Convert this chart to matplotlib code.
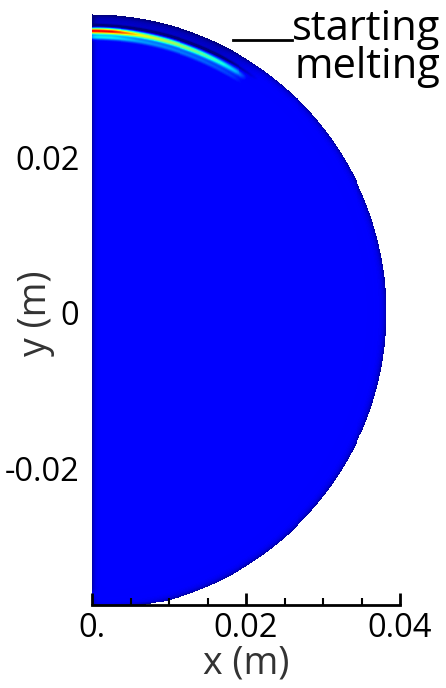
import numpy as np
import matplotlib.pyplot as plt
from matplotlib.lines import Line2D

plt.rcParams['font.family'] = ['Open Sans', 'DejaVu Sans']

# half-sphere section (m)
radius = 0.0383
band_r = 0.0362
band_w = 0.00038

# melt-front level along the top of the section (polar angle in deg -> colour level)
band_deg = [56, 59, 62, 66, 71, 76, 80, 83, 86, 90]
band_lvl = [0.11, 0.30, 0.38, 0.45, 0.52, 0.58, 0.64, 0.78, 0.90, 0.92]
base_lvl = 0.115
shell_lvl = 0.07

x_ticks = [0, 0.02, 0.04]
x_ticklabels = ['0.', '0.02', '0.04']
y_ticks = [-0.02, 0, 0.02]
y_ticklabels = ['-0.02', '0', '0.02']

xs = np.linspace(0, radius, 300)
ys = np.linspace(-radius, radius, 600)
X, Y = np.meshgrid(xs, ys)
R = np.hypot(X, Y)
TH = np.degrees(np.arctan2(Y, X))

amp = np.interp(TH, band_deg, band_lvl)
top = np.clip((TH - 54) / 10, 0, 1)

field = np.full_like(R, base_lvl)
field = np.where(R > band_r, base_lvl - (base_lvl - shell_lvl) * top, field)
# dark wall at the rim and along the symmetry axis
field -= 0.09 * np.exp(-(radius - R) / 0.00035)
field -= 0.07 * np.exp(-X / 0.0003)
# melting band
g = np.exp(-((R - band_r) / band_w) ** 2)
field = field + (amp - field) * g
field -= 0.12 * top * np.exp(-((R - band_r - 0.0007) / 0.0002) ** 2)
field += (amp - base_lvl) * 0.3 * np.exp(-((R - band_r + 0.0008) / 0.0003) ** 2)
field = np.clip(field, 0, 1)
field = np.ma.masked_where(R > radius, field)

fig = plt.figure(figsize=(4.46, 6.88), dpi=100)
ax = fig.add_axes([92 / 446, 83 / 688, 308 / 446, 595 / 688])
ax.imshow(field, extent=[0, radius, -radius, radius], origin='lower', cmap='jet',
          vmin=0, vmax=1, interpolation='nearest', aspect='auto')
ax.set_xlim(0, 0.04)
ax.set_ylim(-0.0376, 0.0389)

for s in ['top', 'right', 'left']:
    ax.spines[s].set_visible(False)
ax.spines['bottom'].set_linewidth(2)
ax.spines['bottom'].set_zorder(5)

ax.set_xticks(x_ticks)
ax.set_xticklabels(x_ticklabels)
ax.set_xticks(np.arange(0, 0.0401, 0.005), minor=True)
ax.set_yticks(y_ticks)
ax.set_yticklabels(y_ticklabels)
ax.tick_params(axis='x', which='major', direction='in', length=9, width=2, pad=5, labelsize=23.5)
ax.tick_params(axis='x', which='minor', direction='in', length=5, width=1.5)
ax.tick_params(axis='y', length=0, pad=9, labelsize=23.5)

ax.set_xlabel('x (m)', fontsize=27, labelpad=0, color='#333333')
ax.set_ylabel('y (m)', fontsize=27, color='#333333')
ax.yaxis.set_label_coords(-0.12, 0.49)

fig.add_artist(Line2D([233 / 446, 292 / 446], [1 - 40 / 688, 1 - 40 / 688],
                      transform=fig.transFigure, color='black', lw=2))
fig.text(440 / 446, 1 - 40 / 688, 'starting', ha='right', va='baseline', fontsize=30)
fig.text(440 / 446, 1 - 78 / 688, 'melting', ha='right', va='baseline', fontsize=30)

fig.savefig('out.png', dpi=100)
